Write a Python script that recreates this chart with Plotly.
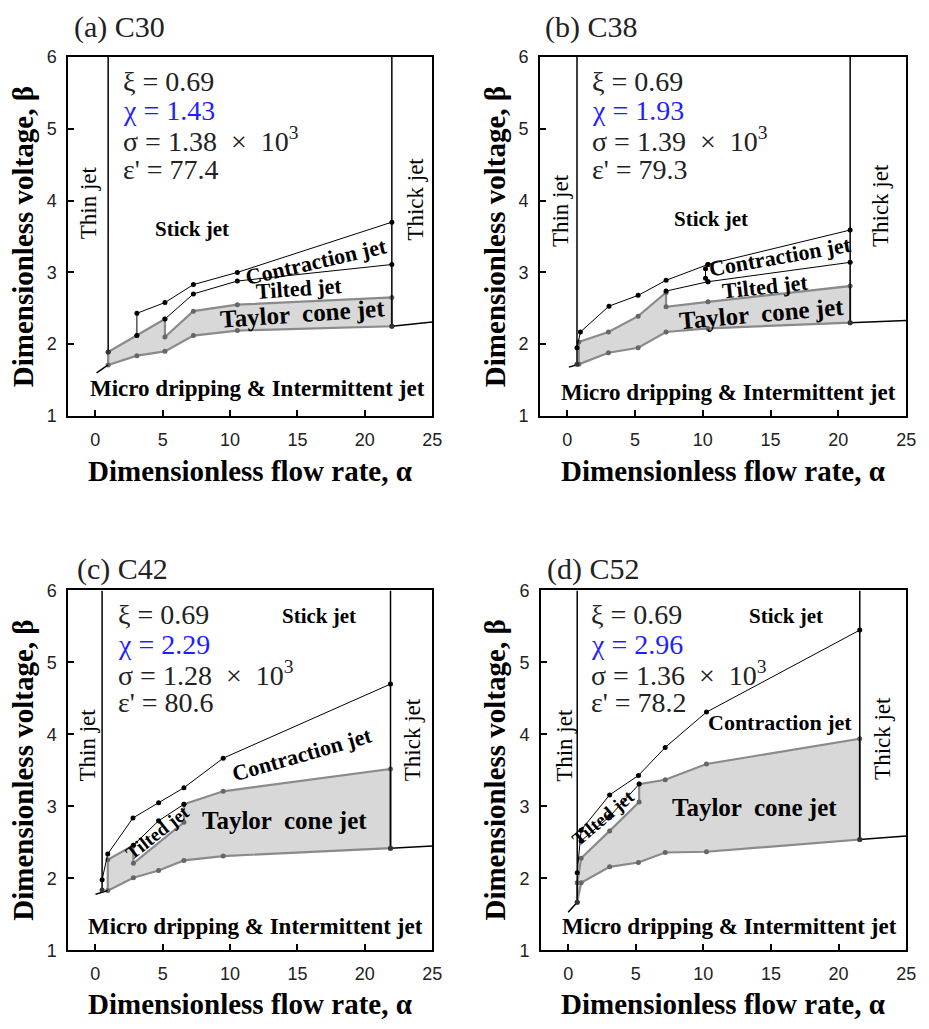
import plotly.graph_objects as go

# ---------------- axis / label data ----------------
alpha_ticks = [0, 5, 10, 15, 20, 25]
beta_ticks = [1, 2, 3, 4, 5, 6]
alpha_range = [-2, 25]
beta_range = [1, 6]

panel_titles = ["(a) C30", "(b) C38", "(c) C42", "(d) C52"]
xi_values = ["0.69", "0.69", "0.69", "0.69"]
chi_values = ["1.43", "1.93", "2.29", "2.96"]
sigma_values = ["1.38", "1.39", "1.28", "1.36"]
eps_values = ["77.4", "79.3", "80.6", "78.2"]

# ---------------- C30 ----------------
c30_thin = [0.96, 1.89]
c30_thick = [22.0, 2.25]
c30_low_left_a = [0.1, 0.96]
c30_low_left_b = [1.60, 1.71]
c30_low_right_a = [22.0, 25.0]
c30_low_right_b = [2.25, 2.31]
c30_taylor_bot_a = [0.96, 3.09, 5.17, 7.28, 10.54, 22.0]
c30_taylor_bot_b = [1.71, 1.84, 1.90, 2.12, 2.19, 2.25]
c30_taylor_top_a = [0.96, 3.09, 5.17, 5.17, 7.28, 10.54, 22.0]
c30_taylor_top_b = [1.89, 2.12, 2.35, 2.10, 2.46, 2.55, 2.65]
c30_tilted_top_a = [5.17, 7.28, 10.54, 22.0]
c30_tilted_top_b = [2.35, 2.70, 2.88, 3.11]
c30_contr_top_a = [3.09, 3.09, 5.17, 7.28, 10.54, 22.0]
c30_contr_top_b = [2.12, 2.43, 2.58, 2.83, 3.00, 3.70]

# ---------------- C38 ----------------
c38_thin = [0.72, 1.72]
c38_thick = [20.87, 2.30]
c38_low_left_a = [0.12, 0.85]
c38_low_left_b = [1.68, 1.72]
c38_low_right_a = [20.87, 25.0]
c38_low_right_b = [2.30, 2.33]
c38_taylor_bot_a = [0.85, 3.04, 5.23, 7.29, 10.38, 20.87]
c38_taylor_bot_b = [1.72, 1.88, 1.95, 2.17, 2.22, 2.30]
c38_taylor_top_a = [0.85, 3.04, 5.23, 7.29, 7.29, 10.38, 20.87]
c38_taylor_top_b = [2.03, 2.17, 2.39, 2.72, 2.52, 2.59, 2.81]
c38_tilted_top_a = [7.29, 10.38, 20.87]
c38_tilted_top_b = [2.74, 2.87, 3.14]
c38_contr_top_a = [0.72, 0.97, 3.08, 5.23, 7.29, 10.38, 20.87]
c38_contr_top_b = [1.95, 2.17, 2.53, 2.68, 2.89, 3.11, 3.59]
c38_bracket_a = [10.38, 10.2, 10.2, 10.38]
c38_bracket_b = [3.11, 3.05, 2.92, 2.87]

# ---------------- C42 ----------------
c42_thin = [0.51, 1.84]
c42_thick = [21.9, 2.42]
c42_low_left_a = [0.02, 0.93]
c42_low_left_b = [1.78, 1.83]
c42_low_right_a = [21.9, 25.0]
c42_low_right_b = [2.42, 2.45]
c42_taylor_bot_a = [0.93, 2.83, 4.70, 6.58, 9.49, 21.9]
c42_taylor_bot_b = [1.83, 2.01, 2.11, 2.25, 2.31, 2.42]
c42_taylor_top_a = [0.93, 2.83, 2.83, 6.58, 6.58, 9.49, 21.9]
c42_taylor_top_b = [2.26, 2.46, 2.21, 2.78, 3.03, 3.21, 3.52]
c42_tilted_top_a = [2.83, 4.70, 6.58]
c42_tilted_top_b = [2.46, 2.80, 3.03]
c42_contr_top_a = [0.51, 0.93, 2.80, 4.70, 6.58, 9.49, 21.9]
c42_contr_top_b = [1.98, 2.34, 2.84, 3.05, 3.26, 3.67, 4.70]

# ---------------- C52 ----------------
c52_thin = [0.67, 1.67]
c52_thick = [21.57, 2.54]
c52_low_left_a = [0.0, 0.67]
c52_low_left_b = [1.53, 1.67]
c52_low_right_a = [21.57, 25.0]
c52_low_right_b = [2.54, 2.59]
c52_taylor_bot_a = [0.67, 0.96, 3.07, 5.20, 7.18, 10.23, 21.57]
c52_taylor_bot_b = [1.67, 1.94, 2.16, 2.22, 2.36, 2.37, 2.54]
c52_taylor_top_a = [0.67, 0.96, 3.07, 5.25, 5.25, 7.18, 10.23, 21.57]
c52_taylor_top_b = [1.94, 2.28, 2.66, 3.06, 3.31, 3.37, 3.59, 3.94]
c52_tilted_top_a = [0.96, 3.07, 5.25]
c52_tilted_top_b = [2.52, 2.86, 3.31]
c52_contr_top_a = [0.67, 0.96, 3.07, 5.20, 7.18, 10.23, 21.57]
c52_contr_top_b = [2.08, 2.67, 3.16, 3.43, 3.82, 4.31, 5.45]

panels = [
    dict(thin=c30_thin, thick=c30_thick,
         low=[(c30_low_left_a, c30_low_left_b), (c30_low_right_a, c30_low_right_b)],
         tb=(c30_taylor_bot_a, c30_taylor_bot_b), tt=(c30_taylor_top_a, c30_taylor_top_b),
         lines=[(c30_tilted_top_a, c30_tilted_top_b), (c30_contr_top_a, c30_contr_top_b)]),
    dict(thin=c38_thin, thick=c38_thick,
         low=[(c38_low_left_a, c38_low_left_b), (c38_low_right_a, c38_low_right_b)],
         tb=(c38_taylor_bot_a, c38_taylor_bot_b), tt=(c38_taylor_top_a, c38_taylor_top_b),
         lines=[(c38_tilted_top_a, c38_tilted_top_b), (c38_contr_top_a, c38_contr_top_b),
                (c38_bracket_a, c38_bracket_b)]),
    dict(thin=c42_thin, thick=c42_thick,
         low=[(c42_low_left_a, c42_low_left_b), (c42_low_right_a, c42_low_right_b)],
         tb=(c42_taylor_bot_a, c42_taylor_bot_b), tt=(c42_taylor_top_a, c42_taylor_top_b),
         lines=[(c42_tilted_top_a, c42_tilted_top_b), (c42_contr_top_a, c42_contr_top_b)]),
    dict(thin=c52_thin, thick=c52_thick,
         low=[(c52_low_left_a, c52_low_left_b), (c52_low_right_a, c52_low_right_b)],
         tb=(c52_taylor_bot_a, c52_taylor_bot_b), tt=(c52_taylor_top_a, c52_taylor_top_b),
         lines=[(c52_tilted_top_a, c52_tilted_top_b), (c52_contr_top_a, c52_contr_top_b)]),
]

# ---------------- layout (positions only) ----------------
W, H = 929, 1029
x_domains = [[69 / W, 437 / W], [546 / W, 916 / W], [69 / W, 437 / W], [547 / W, 916 / W]]
y_domains = [[1 - 414 / H, 1 - 48 / H], [1 - 414 / H, 1 - 48 / H],
             [1 - 959 / H, 1 - 592 / H], [1 - 959 / H, 1 - 592 / H]]

# region label placements (alpha, beta, angle, size)
region_labels = [
    {"Stick jet": (7.2, 3.61, 0, 21), "Contraction jet": (16.4, 3.15, -13, 22),
     "Tilted jet": (15.1, 2.77, -4, 22), "Taylor  cone jet": (15.4, 2.43, -4, 25),
     "Micro dripping &amp; Intermittent jet": (12.0, 1.38, 0, 23)},
    {"Stick jet": (10.6, 3.74, 0, 21), "Contraction jet": (15.7, 3.22, -10, 22),
     "Tilted jet": (14.6, 2.81, -6, 22), "Taylor  cone jet": (14.35, 2.43, -5, 25),
     "Micro dripping &amp; Intermittent jet": (11.9, 1.33, 0, 23)},
    {"Stick jet": (16.6, 5.65, 0, 21), "Contraction jet": (15.3, 3.72, -16, 22),
     "Tilted jet": (4.6, 2.64, -38, 19), "Taylor  cone jet": (14.07, 2.80, 0, 25),
     "Micro dripping &amp; Intermittent jet": (11.87, 1.33, 0, 23)},
    {"Stick jet": (16.1, 5.65, 0, 21), "Contraction jet": (15.7, 4.17, 0, 22),
     "Tilted jet": (2.6, 2.84, -40, 19), "Taylor  cone jet": (13.77, 2.99, 0, 25),
     "Micro dripping &amp; Intermittent jet": (11.94, 1.33, 0, 23)},
]
thin_label_pos = [(-0.5, 3.97), (-0.5, 3.86), (-0.59, 3.85), (-0.26, 3.85)]
thick_label_pos = [(23.75, 4.02), (23.1, 3.93), (23.5, 3.92), (23.3, 3.94)]
param_x = [1.9, 1.7, 1.56, 1.57]
param_y = [5.66, 5.25, 4.85, 4.44]
title_pos = [(73, 17), (549, 17), (76, 570), (551, 570)]
xtitle_pos = [(253, 470), (731, 470), (253, 1014), (731, 1014)]
ytitle_pos = [(23, 231), (500, 231), (23, 775), (500, 775)]

SERIF = "Liberation Serif, Times New Roman, serif"
SANS = "Liberation Sans, Arial, sans-serif"

fig = go.Figure()
annotations = []

for i, p in enumerate(panels):
    sx = "" if i == 0 else str(i + 1)
    xr, yr = "x" + sx, "y" + sx

    # Taylor cone region (filled)
    ta, tb_ = p["tt"]
    ba, bb = p["tb"]
    poly_a = list(ta) + list(reversed(ba))
    poly_b = list(tb_) + list(reversed(bb))
    fig.add_trace(go.Scatter(x=poly_a + [poly_a[0]], y=poly_b + [poly_b[0]], mode="lines",
                             fill="toself", fillcolor="#d8d8d8",
                             line=dict(color="#8a8a8a", width=2.2),
                             xaxis=xr, yaxis=yr, hoverinfo="skip"))
    for (a, b) in [p["tt"], p["tb"]]:
        fig.add_trace(go.Scatter(x=a, y=b, mode="markers",
                                 marker=dict(color="#666666", size=5),
                                 xaxis=xr, yaxis=yr, hoverinfo="skip"))

    # lower boundary (micro dripping)
    for (a, b) in p["low"]:
        fig.add_trace(go.Scatter(x=a, y=b, mode="lines", line=dict(color="black", width=1.5),
                                 xaxis=xr, yaxis=yr, hoverinfo="skip"))

    # thin / thick jet boundaries
    for (xv, yb) in [p["thin"], p["thick"]]:
        fig.add_trace(go.Scatter(x=[xv, xv], y=[beta_range[1], yb], mode="lines",
                                 line=dict(color="black", width=1.5),
                                 xaxis=xr, yaxis=yr, hoverinfo="skip"))
        fig.add_trace(go.Scatter(x=[xv], y=[yb], mode="markers",
                                 marker=dict(color="#333333", size=5),
                                 xaxis=xr, yaxis=yr, hoverinfo="skip"))

    # tilted / contraction boundaries
    for (a, b) in p["lines"]:
        fig.add_trace(go.Scatter(x=a, y=b, mode="lines+markers",
                                 line=dict(color="black", width=1),
                                 marker=dict(color="black", size=5),
                                 xaxis=xr, yaxis=yr, hoverinfo="skip"))

    # region labels
    for txt, (ax_, by_, ang, sz) in region_labels[i].items():
        annotations.append(dict(x=ax_, y=by_, xref=xr, yref=yr, text="<b>" + txt + "</b>",
                                showarrow=False, textangle=ang, xanchor="center",
                                yanchor="middle",
                                font=dict(family=SERIF, size=sz, color="black")))
    for txt, (ax_, by_) in [("Thin jet", thin_label_pos[i]), ("Thick jet", thick_label_pos[i])]:
        annotations.append(dict(x=ax_, y=by_, xref=xr, yref=yr, text=txt, showarrow=False,
                                textangle=-90, xanchor="center", yanchor="middle",
                                font=dict(family=SERIF, size=23, color="black")))

    # parameter block
    params = [("ξ = " + xi_values[i], "#222222"),
              ("χ = " + chi_values[i], "#1f1fff"),
              ("σ = " + sigma_values[i] + "  ×  10<sup>3</sup>", "#222222"),
              ("ε' = " + eps_values[i], "#222222")]
    for (txt, col), yv in zip(params, param_y):
        annotations.append(dict(x=param_x[i], y=yv, xref=xr, yref=yr, text=txt,
                                showarrow=False, xanchor="left", yanchor="middle",
                                font=dict(family=SERIF, size=28, color=col)))

    # panel title & axis titles
    tx, ty = title_pos[i]
    annotations.append(dict(x=tx / W, y=1 - ty / H, xref="paper", yref="paper",
                            text=panel_titles[i], showarrow=False, xanchor="left",
                            yanchor="middle",
                            font=dict(family=SERIF, size=30, color="#222222")))
    tx, ty = xtitle_pos[i]
    annotations.append(dict(x=tx / W, y=1 - ty / H, xref="paper", yref="paper",
                            text="<b>Dimensionless flow rate, α</b>", showarrow=False,
                            xanchor="center", yanchor="middle",
                            font=dict(family=SERIF, size=29, color="black")))
    tx, ty = ytitle_pos[i]
    annotations.append(dict(x=tx / W, y=1 - ty / H, xref="paper", yref="paper",
                            text="<b>Dimensionless voltage, β</b>", showarrow=False,
                            textangle=-90, xanchor="center", yanchor="middle",
                            font=dict(family=SERIF, size=29, color="black")))

    axis_common = dict(showgrid=False, zeroline=False, showline=True, linecolor="black",
                       linewidth=2, mirror=True, ticks="inside", ticklen=6, tickwidth=2,
                       tickcolor="black", tickfont=dict(family=SANS, size=18, color="#222222"))
    fig.layout["xaxis" + sx] = dict(domain=x_domains[i], range=alpha_range, anchor=yr,
                                    tickvals=alpha_ticks, ticklabelstandoff=6, **axis_common)
    fig.layout["yaxis" + sx] = dict(domain=y_domains[i], range=beta_range, anchor=xr,
                                    tickvals=beta_ticks, ticklabelstandoff=6, **axis_common)

fig.update_layout(width=W, height=H, margin=dict(l=0, r=0, t=0, b=0),
                  plot_bgcolor="white", paper_bgcolor="white", showlegend=False,
                  annotations=annotations)

fig.write_html("out.html")
